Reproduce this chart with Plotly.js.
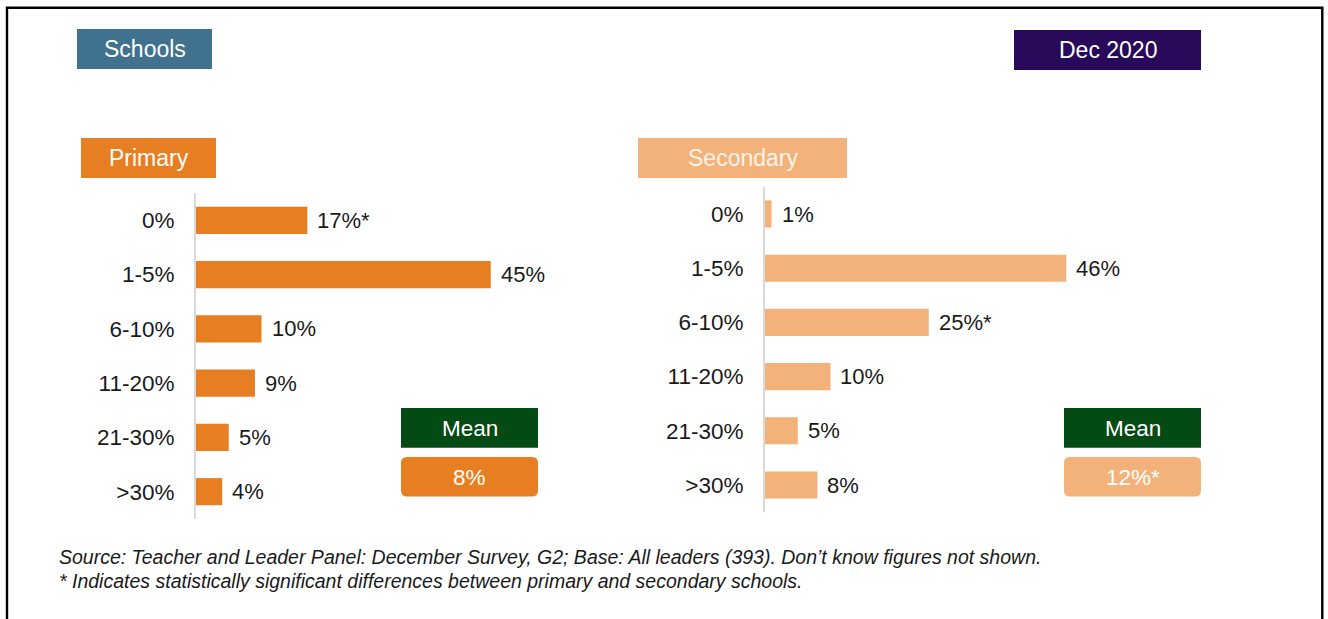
<!DOCTYPE html>
<html><head><meta charset="utf-8">
<script src="https://cdn.plot.ly/plotly-3.0.1.min.js"></script>
<style>html,body{margin:0;padding:0;background:#fff;}#chart{width:1328px;height:619px;}</style>
</head><body><div id="chart"></div>
<script>
// ---- data ----
const categories = ['0%', '1-5%', '6-10%', '11-20%', '21-30%', '>30%'];
const primaryValues = [17, 45, 10, 9, 5, 4];
const primarySig = [true, false, false, false, false, false];
const secondaryValues = [1, 46, 25, 10, 5, 8];
const secondarySig = [false, false, true, false, false, false];
const meanValues = [8, 12];
const meanSig = [false, true];
const panelTitles = ['Primary', 'Secondary'];
const headerLeft = 'Schools';
const headerRight = 'Dec 2020';
const meanLabel = 'Mean';
const footnotes = [
  'Source: Teacher and Leader Panel: December Survey, G2; Base: All leaders (393). Don\u2019t know figures not shown.',
  '* Indicates statistically significant differences between primary and secondary schools.'
];

// ---- layout helpers ----
const W = 1328, H = 619;
const px = x => x / W;
const py = y => 1 - y / H;
const FONT = '"Liberation Sans", Arial, sans-serif';
const C_PRIMARY = '#E87E22', C_SECONDARY = '#F2B27A', C_GREEN = '#034A14';
const C_BLUE = '#40728F', C_PURPLE = '#28095A', C_TEXT = '#1a1a1a';
const XMAX = 60, PXPERUNIT = 6.55;

function rect(x0, y0, x1, y1, color) {
  return {type: 'rect', xref: 'paper', yref: 'paper', x0: px(x0), x1: px(x1), y0: py(y1), y1: py(y0),
          fillcolor: color, line: {width: 0}, layer: 'above'};
}
function roundRect(x0, y0, x1, y1, r, color) {
  const P = (x, y) => px(x) + ',' + py(y);
  const path = 'M' + P(x0 + r, y0) + ' L' + P(x1 - r, y0) + ' Q' + P(x1, y0) + ' ' + P(x1, y0 + r) +
    ' L' + P(x1, y1 - r) + ' Q' + P(x1, y1) + ' ' + P(x1 - r, y1) +
    ' L' + P(x0 + r, y1) + ' Q' + P(x0, y1) + ' ' + P(x0, y1 - r) +
    ' L' + P(x0, y0 + r) + ' Q' + P(x0, y0) + ' ' + P(x0 + r, y0) + ' Z';
  return {type: 'path', xref: 'paper', yref: 'paper', path: path, fillcolor: color, line: {width: 0}, layer: 'above'};
}
function label(x, y, text, color, size, extra) {
  return Object.assign({xref: 'paper', yref: 'paper', x: px(x), y: py(y), text: text, showarrow: false,
    xanchor: 'center', yanchor: 'middle', font: {family: FONT, size: size, color: color}}, extra || {});
}
const fmtPct = (v, sig) => v + '%' + (sig ? '*' : '');

const panels = [
  {vals: primaryValues, sig: primarySig, color: C_PRIMARY, xa: 'x', ya: 'y', x0: 196, yTop: 193.2, yBot: 518.8},
  {vals: secondaryValues, sig: secondarySig, color: C_SECONDARY, xa: 'x2', ya: 'y2', x0: 765, yTop: 186.9, yBot: 512.1}
];

const traces = panels.map(p => ({
  type: 'bar', orientation: 'h', x: p.vals, y: categories, xaxis: p.xa, yaxis: p.ya,
  marker: {color: p.color, line: {width: 0}}, hoverinfo: 'skip', showlegend: false
}));

const annotations = [];
panels.forEach(p => {
  p.vals.forEach((v, i) => {
    annotations.push({xref: p.xa, yref: p.ya, x: v, y: categories[i], text: fmtPct(v, p.sig[i]),
      showarrow: false, xanchor: 'left', yanchor: 'middle', xshift: 8,
      font: {family: FONT, size: 22, color: C_TEXT}});
  });
});

const shapes = [
  rect(77, 29, 212, 69, C_BLUE),
  rect(1014, 30, 1201, 70, C_PURPLE),
  rect(81, 138, 216, 178, C_PRIMARY),
  rect(638, 138, 847, 178, C_SECONDARY),
  rect(401, 408, 538, 447.7, C_GREEN),
  roundRect(401, 457, 538, 496.5, 6, C_PRIMARY),
  rect(1064, 408, 1201, 447.7, C_GREEN),
  roundRect(1064, 457, 1201, 496.5, 6, C_SECONDARY),
  {type: 'path', xref: 'paper', yref: 'paper',
   path: 'M' + px(7) + ',' + py(640) + ' L' + px(7) + ',' + py(7.7) + ' L' + px(1322.3) + ',' + py(7.7) + ' L' + px(1322.3) + ',' + py(640),
   line: {color: '#000', width: 2.4}, layer: 'above'}
];
annotations.push(label(144.5, 49, headerLeft, '#fff', 23));
annotations.push(label(1107.5, 50, headerRight, '#fff', 23));
annotations.push(label(148.5, 158, panelTitles[0], '#fff', 23));
annotations.push(label(742.5, 158, panelTitles[1], '#fdf3ea', 23));
annotations.push(label(469.5, 428, meanLabel, '#fff', 22.5));
annotations.push(label(469.5, 477, fmtPct(meanValues[0], meanSig[0]), '#fff', 22.5));
annotations.push(label(1132.5, 428, meanLabel, '#fff', 22.5));
annotations.push(label(1132.5, 477, fmtPct(meanValues[1], meanSig[1]), '#fff', 22.5));
annotations.push(label(57, 557, '<i>' + footnotes[0] + '</i>', C_TEXT, 19.5, {xanchor: 'left'}));
annotations.push(label(57, 581, '<i>' + footnotes[1] + '</i>', C_TEXT, 19.5, {xanchor: 'left'}));

function xaxis(p, anchor) {
  return {domain: [px(p.x0), px(p.x0 + XMAX * PXPERUNIT)], range: [0, XMAX], visible: false,
          anchor: anchor, fixedrange: true};
}
function yaxis(p, anchor) {
  return {domain: [py(p.yBot), py(p.yTop)], type: 'category', categoryorder: 'array', categoryarray: categories,
          range: [categories.length - 0.5, -0.5], anchor: anchor, showline: true, linecolor: '#d9d9d9', linewidth: 2,
          ticks: '', ticklabelstandoff: 15, showgrid: false, zeroline: false, fixedrange: true,
          tickfont: {family: FONT, size: 22.5, color: C_TEXT}};
}

const layout = {
  width: W, height: H, margin: {l: 0, r: 0, t: 0, b: 0},
  paper_bgcolor: '#fff', plot_bgcolor: 'rgba(0,0,0,0)',
  bargap: 0.5, showlegend: false,
  xaxis: xaxis(panels[0], 'y'), yaxis: yaxis(panels[0], 'x'),
  xaxis2: xaxis(panels[1], 'y2'), yaxis2: yaxis(panels[1], 'x2'),
  shapes: shapes, annotations: annotations
};

Plotly.newPlot('chart', traces, layout, {displayModeBar: false, staticPlot: true});
</script></body></html>
